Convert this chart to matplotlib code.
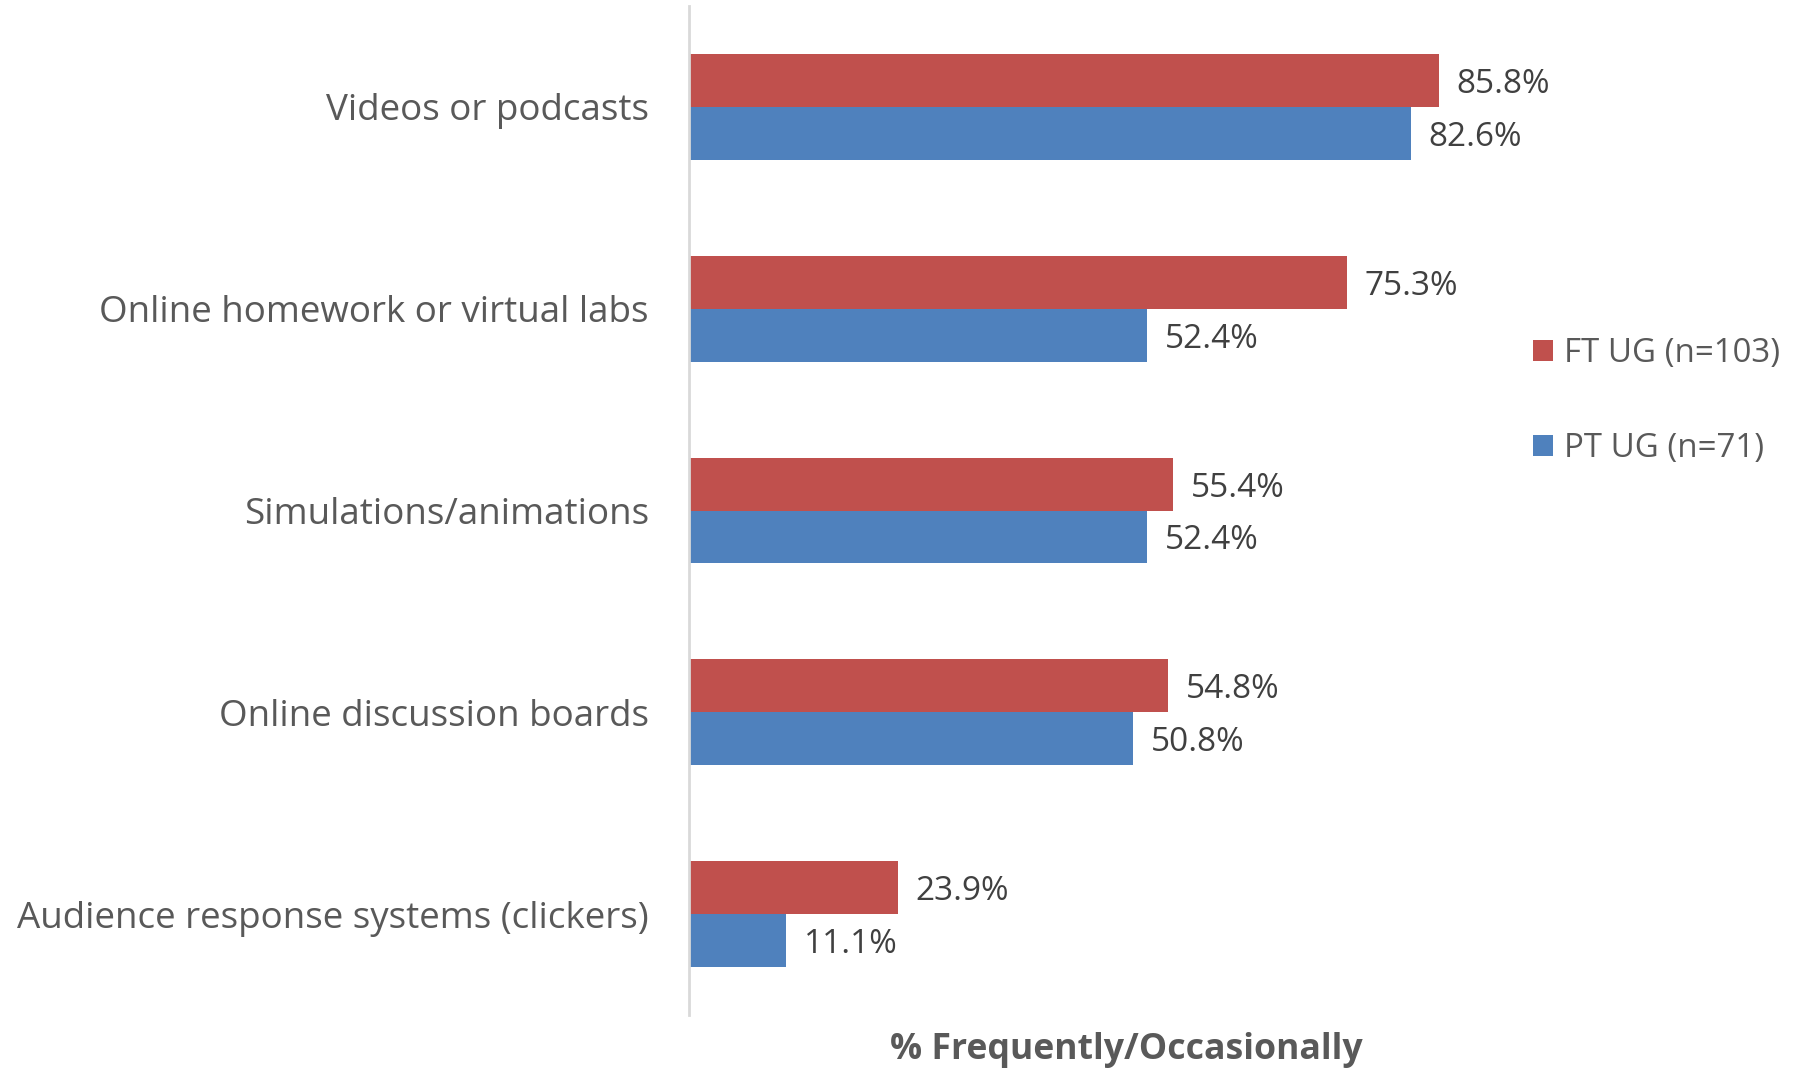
import matplotlib
matplotlib.use("Agg")
import matplotlib.pyplot as plt
import numpy as np

categories = [
    "Videos or podcasts",
    "Online homework or virtual labs",
    "Simulations/animations",
    "Online discussion boards",
    "Audience response systems (clickers)",
]
ft_ug = [85.8, 75.3, 55.4, 54.8, 23.9]
pt_ug = [82.6, 52.4, 52.4, 50.8, 11.1]
series_names = ["FT UG (n=103)", "PT UG (n=71)"]

RED = "#c0504d"
BLUE = "#4f81bd"
TEXT = "#595959"
FONT = ["Open Sans", "DejaVu Sans"]

plt.rcParams["font.family"] = FONT

W, H = 1794, 1068
fig = plt.figure(figsize=(W / 100, H / 100), dpi=100)
# plot area placed in pixel terms
left, right, top, bottom = 689, 1563, 6, 1015
ax = fig.add_axes([left / W, 1 - bottom / H, (right - left) / W, (bottom - top) / H])

y = np.arange(len(categories))
h = 0.262
ax.barh(y - h / 2, ft_ug, height=h, color=RED, label=series_names[0])
ax.barh(y + h / 2, pt_ug, height=h, color=BLUE, label=series_names[1])

for yi, v in zip(y, ft_ug):
    ax.text(v + 2.0, yi - h / 2 + 0.02, f"{v:.1f}%", va="center", ha="left",
            fontsize=24, color="#404040")
for yi, v in zip(y, pt_ug):
    ax.text(v + 2.0, yi + h / 2 + 0.02, f"{v:.1f}%", va="center", ha="left",
            fontsize=24, color="#404040")

ax.set_xlim(0, 100)
ax.set_ylim(len(categories) - 0.5, -0.5)
ax.set_yticks(y)
ax.set_yticklabels(categories, fontsize=26.5, color=TEXT)
ax.tick_params(axis="y", length=0, pad=29)
ax.set_xticks([])

for s in ["top", "right", "bottom"]:
    ax.spines[s].set_visible(False)
ax.spines["left"].set_color("#d9d9d9")
ax.spines["left"].set_linewidth(2)

ax.set_xlabel("% Frequently/Occasionally", fontsize=25.7, fontweight="bold",
              color=TEXT, labelpad=12)

leg = fig.legend(loc="center left", bbox_to_anchor=(1503 / W, 1 - 401 / H),
                 frameon=False, fontsize=23.8, handlelength=0.6, handleheight=0.6,
                 handletextpad=0.35, labelspacing=1.86)
for t in leg.get_texts():
    t.set_color(TEXT)

fig.savefig("out.png", dpi=100)
